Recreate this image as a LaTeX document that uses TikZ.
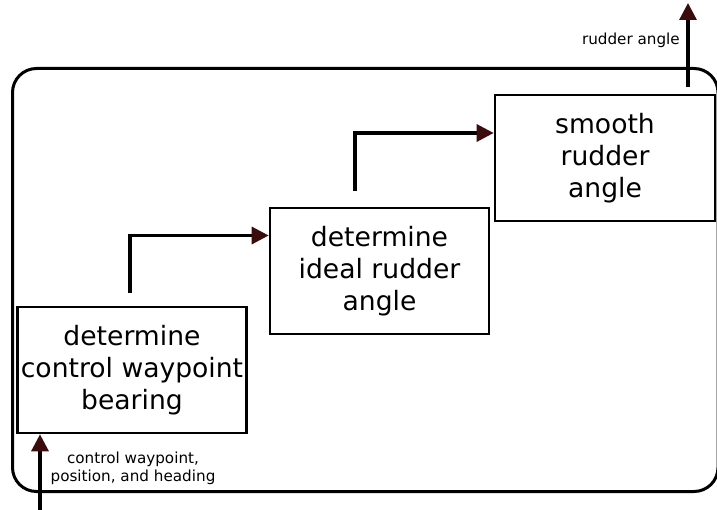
\documentclass[tikz,border=0pt]{standalone}
\usepackage{fontspec}
\setmainfont{DejaVu Sans}
\usetikzlibrary{arrows.meta}
\definecolor{arrowcol}{RGB}{60,12,12}
\tikzset{
  procbox/.style={draw=black, line width=2.6pt, align=center, inner sep=0pt,
    font=\fontsize{26.6}{32}\selectfont},
  conn/.style={line width=3.2pt, -{Triangle[length=17pt,width=17pt,color=arrowcol,fill=arrowcol]}},
  smalllabel/.style={font=\fontsize{15.2}{18}\selectfont, align=center, inner sep=0pt}
}
\begin{document}
\begin{tikzpicture}[x=1pt,y=-1pt]
\useasboundingbox (0,0) rectangle (717,510);
% outer rounded frame
\draw[line width=3pt, rounded corners=24pt] (12.5,68.5) rectangle (718,491.5);
% boxes
\node[procbox, minimum width=229pt, minimum height=126pt] (b1) at (132,370)
  {determine\\control waypoint\\bearing};
\node[procbox, minimum width=219pt, minimum height=126pt] (b2) at (379.5,271)
  {determine\\ideal rudder\\angle};
\node[procbox, minimum width=220pt, minimum height=126pt] (b3) at (605,158)
  {smooth\\rudder\\angle};
% input
\coordinate (inp) at (40,510);
\draw[conn] (inp) -- (inp |- b1.south);
\node[smalllabel] (inlbl) at (133,468) {control waypoint,\\position, and heading};
% connector 1
\coordinate (c1s) at (130,293);
\coordinate (c1t) at (130,235.5);
\draw[conn] (c1s) -- (c1t) -- (c1t -| b2.west);
% connector 2
\coordinate (c2s) at (355,191);
\coordinate (c2t) at (355,133);
\draw[conn] (c2s) -- (c2t) -- (c2t -| b3.west);
% output
\coordinate (o1) at (688,87);
\coordinate (o2) at (688,3);
\draw[conn] (o1) -- (o2);
\node[smalllabel, anchor=east] (outlbl) at (680,40) {rudder angle};
\end{tikzpicture}
\end{document}
